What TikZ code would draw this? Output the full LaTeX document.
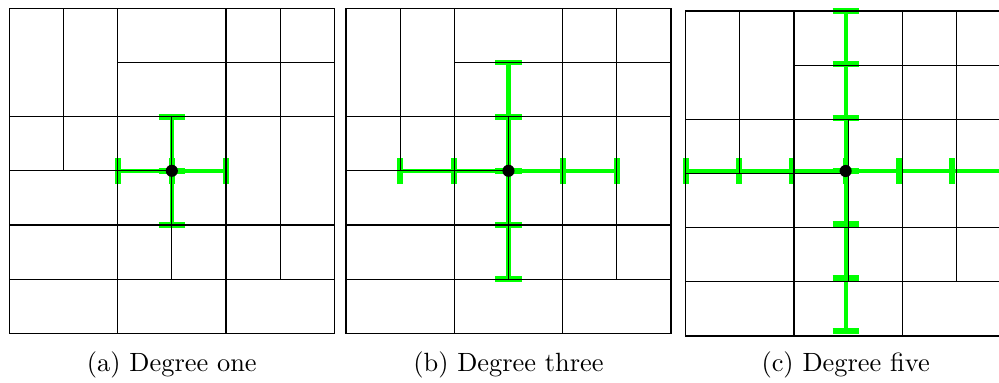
\documentclass[tikz,border=0pt]{standalone}

\begin{document}
\begin{tikzpicture}[
        x=0.7214cm, y=0.7214cm,
        meshline/.style={draw=black, line width=0.4pt},
        arm/.style={draw=green, line width=1.6pt},
        endbar/.style={draw=green, line width=2.2pt},
        dot/.style={circle, fill=black, inner sep=0pt, minimum size=4.6pt},
        caption/.style={anchor=base, align=center},
        mesh/.pic={
            \draw[meshline] (0,0) rectangle (6,-6);
            \foreach \x/\ya/\yb in {1/0/3, 2/0/6, 3/2/5, 4/0/6, 5/0/5}
                \draw[meshline] (\x,-\ya) -- (\x,-\yb);
            \foreach \y/\xa/\xb in {1/2/6, 2/0/6, 3/0/3, 4/0/6, 5/0/6}
                \draw[meshline] (\xa,-\y) -- (\xb,-\y);
        }
    ]
        \useasboundingbox (0,0) rectangle (18.442,-7.070);
        \clip (0,0) rectangle (18.442,-7.070);

        % degree one
        \begin{scope}[shift={(0.172,-0.153)}]
            \foreach \i in {0,...,6} {
                \foreach \j in {0,...,6} {
                    \coordinate (a-\i-\j) at (\i,-\j);
                }
            }
            \draw[arm] (a-3-2) -- (a-3-4);
            \draw[arm] (a-2-3) -- (a-4-3);
            \foreach \p in {2,3,4} {
                \draw[endbar] ([xshift=-5pt]a-3-\p) -- ([xshift=5pt]a-3-\p);
                \draw[endbar] ([yshift=-5pt]a-\p-3) -- ([yshift=5pt]a-\p-3);
            }
            \pic {mesh};
            \node[dot] (adot) at (a-3-3) {};
        \end{scope}

        % degree three
        \begin{scope}[shift={(6.387,-0.153)}]
            \foreach \i in {0,...,6} {
                \foreach \j in {0,...,6} {
                    \coordinate (b-\i-\j) at (\i,-\j);
                }
            }
            \draw[arm] (b-3-1) -- (b-3-5);
            \draw[arm] (b-1-3) -- (b-5-3);
            \foreach \p in {1,...,5} {
                \draw[endbar] ([xshift=-5pt]b-3-\p) -- ([xshift=5pt]b-3-\p);
                \draw[endbar] ([yshift=-5pt]b-\p-3) -- ([yshift=5pt]b-\p-3);
            }
            \pic {mesh};
            \node[dot] (bdot) at (b-3-3) {};
        \end{scope}

        % degree five
        \begin{scope}[shift={(12.658,-0.203)}, scale=0.9845]
            \foreach \i in {0,...,6} {
                \foreach \j in {0,...,6} {
                    \coordinate (c-\i-\j) at (\i,-\j);
                }
            }
            \draw[arm] (c-3-0) -- (c-3-6);
            \draw[arm] (c-0-3) -- (c-6-3);
            \foreach \p in {0,...,6} {
                \draw[endbar] ([xshift=-5pt]c-3-\p) -- ([xshift=5pt]c-3-\p);
                \draw[endbar] ([yshift=-5pt]c-\p-3) -- ([yshift=5pt]c-\p-3);
            }
            \pic {mesh};
            \node[dot] (cdot) at (c-3-3) {};
        \end{scope}

        \node[caption] (capa) at (3.172,-6.867) {(a) Degree one};
        \node[caption] (capb) at (9.387,-6.867) {(b) Degree three};
        \node[caption] (capc) at (15.611,-6.867) {(c) Degree five};
    \end{tikzpicture}
\end{document}
